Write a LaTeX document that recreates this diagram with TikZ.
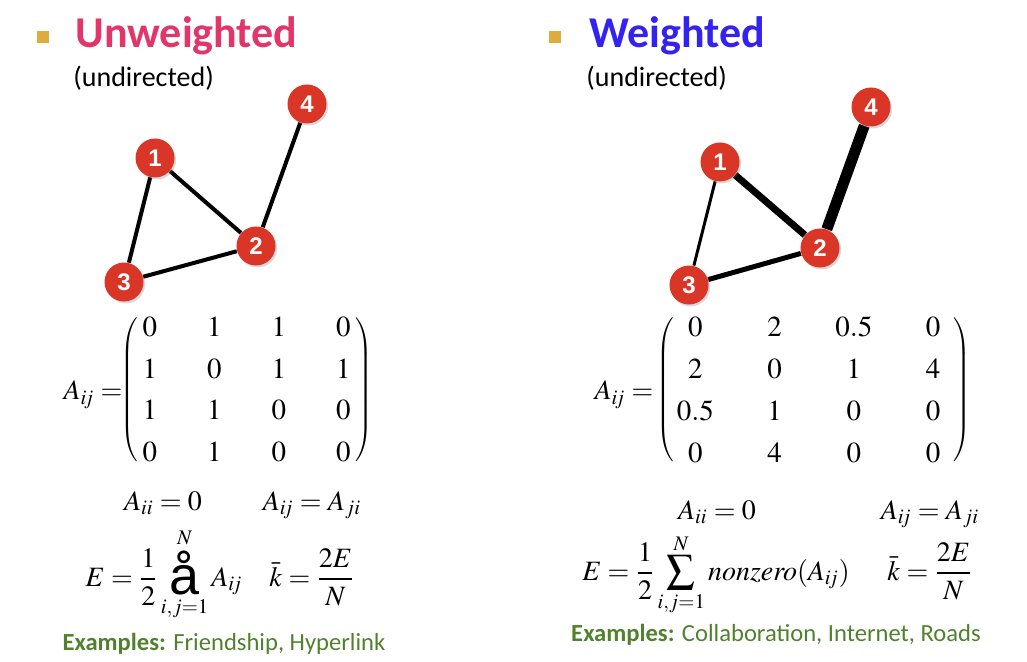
\documentclass[tikz,border=0pt]{standalone}
\usepackage{amsmath}
\usepackage{mathptmx}
\usepackage[no-math]{fontspec}
\setmainfont{Carlito}
\newfontfamily\numfont{Liberation Sans}
\usetikzlibrary{matrix,shadows,backgrounds}
\definecolor{vred}{RGB}{217,54,40}
\definecolor{bulletgold}{RGB}{222,172,60}
\definecolor{unwpink}{RGB}{226,54,107}
\definecolor{wblue}{RGB}{51,34,240}
\definecolor{exgreen}{RGB}{80,130,45}
\tikzset{
	vertex/.style={circle, fill=vred, minimum size=19.5pt, inner sep=0pt, text=white, font=\numfont\bfseries\fontsize{12}{12}\selectfont, drop shadow={shadow xshift=0.8pt, shadow yshift=-1pt, opacity=0.3}},
	link/.style={line width=2pt},
	bullet/.style={fill=bulletgold, minimum size=6pt, inner sep=0pt},
	heading/.style={anchor=base west, inner sep=0pt, font=\bfseries\fontsize{22}{24}\selectfont},
	subheading/.style={anchor=base west, inner sep=0pt, font=\fontsize{14}{16}\selectfont},
	formula/.style={anchor=base, inner sep=0pt, font=\fontsize{14}{17}\selectfont},
	adjmat/.style={matrix of math nodes, inner sep=0pt, left delimiter=(, right delimiter=), row sep=11.05pt,
		nodes={inner sep=0pt, font=\fontsize{14.5}{17}\selectfont}},
	example/.style={anchor=base, text=exgreen, inner sep=0pt, font=\fontsize{12.3}{14}\selectfont}
}

\begin{document}
\begin{tikzpicture}[x=0.5pt, y=-0.5pt]
	\useasboundingbox (0,0) rectangle (1027,662);
	% unweighted side
	\node[bullet] (bulU) at (43,37) {};
	\node[heading, text=unwpink] (headU) at (75,48) {Unweighted};
	\node[subheading] (subU) at (73,87) {(undirected)};
	\node[vertex] (u1) at (155,158) {1};
	\node[vertex] (u2) at (256,246) {2};
	\node[vertex] (u3) at (124,282) {3};
	\node[vertex] (u4) at (307,104) {4};
	\begin{pgfonlayer}{background}
		\draw[link] (u1) -- (u2);
		\draw[link] (u1) -- (u3);
		\draw[link] (u2) -- (u3);
		\draw[link] (u2) -- (u4);
	\end{pgfonlayer}
	\matrix[adjmat, column sep=23.25pt, nodes={minimum width=9pt}] (adjU) at (246.5,389.5) {
		0 & 1 & 1 & 0 \\
		1 & 0 & 1 & 1 \\
		1 & 1 & 0 & 0 \\
		0 & 1 & 0 & 0 \\
	};
	\node[formula] (lblU) at (93,400) {$A_{i\!j} =$};
	\node[formula] (diagU) at (163,510) {$A_{ii} = 0$};
	\node[formula] (symU) at (312,510) {$A_{i\!j} = A_{ji}$};
	\node[formula] (edgesU) at (164,586) {$\displaystyle E = \frac{1}{2}\mathop{\lower4pt\hbox{\numfont\fontsize{27}{27}\selectfont å}}\limits_{i,j=1}^{N} A_{i\!j}$};
	\node[formula] (degU) at (312,586) {$\displaystyle \bar{k} = \frac{2E}{N}$};
	\node[example] (exU) at (224,650) {\textbf{Examples:} Friendship, Hyperlink};
	% weighted side
	\node[bullet] (bulW) at (555,37) {};
	\node[heading, text=wblue] (headW) at (589,48) {Weighted};
	\node[subheading] (subW) at (586,87) {(undirected)};
	\node[vertex] (w1) at (720,162) {1};
	\node[vertex] (w2) at (820,248) {2};
	\node[vertex] (w3) at (689,285) {3};
	\node[vertex] (w4) at (871,107) {4};
	\begin{pgfonlayer}{background}
		\draw[line width=3.5pt] (w1) -- (w2);
		\draw[line width=1.5pt] (w1) -- (w3);
		\draw[line width=2.5pt] (w2) -- (w3);
		\draw[line width=5.5pt] (w2) -- (w4);
	\end{pgfonlayer}
	\matrix[adjmat, column sep=21.35pt, nodes={minimum width=18pt}] (adjW) at (814,389.5) {
		0 & 2 & 0.5 & 0 \\
		2 & 0 & 1 & 4 \\
		0.5 & 1 & 0 & 0 \\
		0 & 4 & 0 & 0 \\
	};
	\node[formula] (lblW) at (624,400) {$A_{i\!j} =$};
	\node[formula] (diagW) at (717,519) {$A_{ii} = 0$};
	\node[formula] (symW) at (930,519) {$A_{i\!j} = A_{ji}$};
	\node[formula] (edgesW) at (716,580) {$\displaystyle E = \frac{1}{2}\sum_{i,j=1}^{N} \mathit{nonzero}(A_{i\!j})$};
	\node[formula] (degW) at (930,580) {$\displaystyle \bar{k} = \frac{2E}{N}$};
	\node[example] (exW) at (776,641) {\textbf{Examples:} Collaboration, Internet, Roads};
\end{tikzpicture}
\end{document}
